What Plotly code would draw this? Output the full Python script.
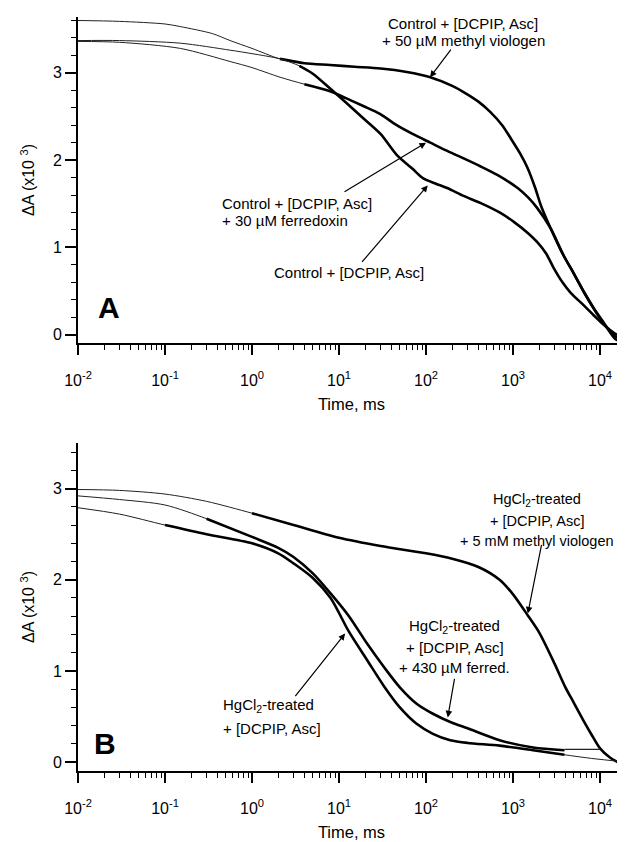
import plotly.graph_objects as go

# ---------------- data ----------------
# Panel A
t_mv_a = [0.01, 0.03, 0.1, 0.15, 0.35, 0.56, 1, 2.1, 4, 7.9, 15, 30, 60, 112, 200, 270, 400, 550,
          750, 940, 1200, 1470, 1800, 2090, 2700, 3800, 5000, 6600, 8000, 9500, 12000, 14500, 20000]
mv_a = [3.60, 3.59, 3.56, 3.53, 3.45, 3.37, 3.28, 3.16, 3.11, 3.09, 3.07, 3.05, 3.01, 2.95, 2.85, 2.78,
        2.67, 2.55, 2.40, 2.25, 2.08, 1.91, 1.68, 1.48, 1.22, 0.91, 0.70, 0.48, 0.34, 0.22, 0.08, -0.01, -0.08]

t_ctrl_a = [0.01, 0.03, 0.15, 0.56, 1, 2.1, 3.5, 5, 7.9, 12, 19, 30, 46, 70, 93, 130, 175, 270, 420,
            700, 1030, 1500, 1900, 2400, 2950, 3700, 4600, 6600, 8500, 10300, 15000, 20000]
ctrl_a = [3.37, 3.37, 3.34, 3.26, 3.22, 3.16, 3.08, 2.99, 2.82, 2.66, 2.48, 2.30, 2.06, 1.90, 1.79, 1.73,
          1.68, 1.59, 1.51, 1.40, 1.29, 1.16, 1.06, 0.93, 0.76, 0.60, 0.48, 0.33, 0.22, 0.14, 0.01, -0.04]

t_fd_a = [0.01, 0.03, 0.15, 0.56, 1, 2.1, 4, 7.9, 12, 19, 29.5, 46, 70, 112, 180, 270, 420, 660, 1130,
          1500, 1900, 2700, 3800, 5000, 6600, 8500, 11000, 15000, 20000]
fd_a = [3.36, 3.35, 3.28, 3.13, 3.06, 2.95, 2.87, 2.79, 2.71, 2.62, 2.53, 2.40, 2.30, 2.20, 2.10, 2.02,
        1.93, 1.83, 1.68, 1.57, 1.45, 1.22, 0.91, 0.70, 0.48, 0.30, 0.14, -0.05, -0.10]

# Panel B
t_mv_b = [0.01, 0.03, 0.1, 0.3, 1, 3, 10, 30, 100, 200, 400, 700, 1000, 1500, 2000, 3000, 4000, 5000,
          6500, 8000, 10000, 13000, 20000]
mv_b = [2.99, 2.98, 2.94, 2.86, 2.73, 2.60, 2.46, 2.37, 2.29, 2.23, 2.14, 2.00, 1.84, 1.60, 1.42, 1.08,
        0.82, 0.65, 0.45, 0.30, 0.15, 0.05, -0.05]

t_fer_b = [0.01, 0.03, 0.1, 0.3, 1, 2, 3, 5, 8, 13, 21, 33, 50, 78, 120, 190, 300, 700, 1700, 3900]
fer_b = [2.92, 2.88, 2.82, 2.67, 2.47, 2.35, 2.25, 2.07, 1.85, 1.60, 1.30, 1.04, 0.82, 0.64, 0.53, 0.44,
         0.37, 0.24, 0.16, 0.13]
t_fer_base_b = [3900, 10000]
fer_base_b = [0.14, 0.14]

t_hg_b = [0.01, 0.03, 0.1, 0.3, 1, 2, 3, 5, 8, 13, 21, 33, 50, 78, 120, 190, 300, 700, 1700, 3900,
          8000, 20000]
hg_b = [2.79, 2.72, 2.60, 2.50, 2.40, 2.29, 2.18, 2.02, 1.80, 1.43, 1.12, 0.83, 0.60, 0.42, 0.31, 0.24,
        0.21, 0.18, 0.13, 0.08, 0.04, 0.00]

# time windows covered by the measured (dense) data
data_window = {
    "mv_a": (1.5, 20000), "ctrl_a": (2.5, 20000), "fd_a": (2.5, 20000),
    "mv_b": (0.8, 20000), "fer_b": (0.3, 3900), "hg_b": (0.1, 3900),
}

x_major = [0.01, 0.1, 1, 10, 100, 1000, 10000]
x_major_text = ["10<sup>-2</sup>", "10<sup>-1</sup>", "10<sup>0</sup>", "10<sup>1</sup>",
                "10<sup>2</sup>", "10<sup>3</sup>", "10<sup>4</sup>"]
x_minor = [m * 10.0 ** e for e in range(-2, 5) for m in range(2, 10)]
y_major = [0, 1, 2, 3]

# ---------------- figure ----------------
FONT = "Liberation Sans, Arial, Helvetica, sans-serif"
fig = go.Figure()


def add_curve(t, v, key, xa, ya):
    fig.add_trace(go.Scatter(x=t, y=v, mode="lines", xaxis=xa, yaxis=ya,
                             line=dict(color="#222", width=1, shape="spline", smoothing=0.8),
                             showlegend=False, hoverinfo="skip"))
    lo, hi = data_window[key]
    td = [a for a in t if lo <= a <= hi]
    vd = [b for a, b in zip(t, v) if lo <= a <= hi]
    fig.add_trace(go.Scatter(x=td, y=vd, mode="lines", xaxis=xa, yaxis=ya,
                             line=dict(color="black", width=2.6, shape="spline", smoothing=0.8),
                             showlegend=False, hoverinfo="skip"))


add_curve(t_mv_a, mv_a, "mv_a", "x", "y")
add_curve(t_ctrl_a, ctrl_a, "ctrl_a", "x", "y")
add_curve(t_fd_a, fd_a, "fd_a", "x", "y")
add_curve(t_mv_b, mv_b, "mv_b", "x2", "y2")
add_curve(t_fer_b, fer_b, "fer_b", "x2", "y2")
add_curve(t_hg_b, hg_b, "hg_b", "x2", "y2")
fig.add_trace(go.Scatter(x=t_fer_base_b, y=fer_base_b, mode="lines", xaxis="x2", yaxis="y2",
                         line=dict(color="#222", width=1.2), showlegend=False, hoverinfo="skip"))

xcommon = dict(type="log", range=[-2, 4.287], tickmode="array", tickvals=x_major,
               ticktext=x_major_text, ticklabelstandoff=12,
               showline=True, linecolor="black", linewidth=1.6, ticks="outside", ticklen=10,
               tickwidth=1.6, tickcolor="black", showgrid=False, zeroline=False,
               tickfont=dict(family=FONT, size=16, color="black"),
               minor=dict(tickvals=x_minor, ticks="outside", ticklen=5, tickwidth=1.3,
                          tickcolor="black", showgrid=False),
               title=dict(text="Time, ms", font=dict(family=FONT, size=16.5, color="black"),
                          standoff=10))
ycommon = dict(showline=True, linecolor="black", linewidth=1.6, ticks="outside", ticklen=11,
               tickwidth=1.6, tickcolor="black", showgrid=False, zeroline=False,
               tickmode="array", tickvals=y_major,
               tickfont=dict(family=FONT, size=16, color="black"),
               minor=dict(dtick=0.2, ticks="outside", ticklen=5, tickwidth=1.3, tickcolor="black",
                          showgrid=False),
               title=dict(text="ΔA (x10 <sup>3</sup>)", font=dict(family=FONT, size=16, color="black"),
                          standoff=14))

# the page body adds an 8 px offset, so the figure is sized/margined to compensate
fig.update_layout(
    width=617, height=834, paper_bgcolor="white", plot_bgcolor="white",
    margin=dict(l=70, r=0, t=9, b=71),
    xaxis=dict(xcommon, domain=[0, 1], anchor="y"),
    yaxis=dict(ycommon, domain=[0.5676, 1], range=[-0.096, 3.64], anchor="x"),
    xaxis2=dict(xcommon, domain=[0, 1], anchor="y2"),
    yaxis2=dict(ycommon, domain=[0, 0.435], range=[-0.098, 3.50], anchor="x2"),
)

ann = []
TF = dict(family=FONT, size=15, color="black")


def label(text, x, y, xref, yref, xanchor="center", size=15):
    ann.append(dict(text=text, x=x, y=y, xref=xref, yref=yref, showarrow=False,
                    font=dict(TF, size=size), xanchor=xanchor, yanchor="middle"))


def arrow(x, y, ax, ay, xref, yref):
    ann.append(dict(text="", x=x, y=y, xref=xref, yref=yref, ax=ax, ay=ay, showarrow=True,
                    arrowhead=2, arrowsize=1.1, arrowwidth=1.2, arrowcolor="black"))


# Panel A labels (x in log10 units for log axes)
label("Control + [DCPIP, Asc]", 2.425, 3.57, "x", "y")
label("+ 50 µM methyl viologen", 2.425, 3.376, "x", "y")
arrow(2.046, 2.95, 22, -29, "x", "y")
label("Control + [DCPIP, Asc]", -0.368, 1.507, "x", "y", "left")
label("+ 30 µM ferredoxin", -0.368, 1.313, "x", "y", "left")
arrow(2.0, 2.20, -83, 50, "x", "y")
label("Control + [DCPIP, Asc]", 1.115, 0.716, "x", "y")
arrow(2.02, 1.71, -67, 78, "x", "y")
ann.append(dict(text="<b>A</b>", x=-1.64, y=0.31, xref="x", yref="y", showarrow=False,
                font=dict(family=FONT, size=30, color="black"), xanchor="center", yanchor="middle"))

# Panel B labels
label("HgCl<sub>2</sub>-treated", 3.27, 2.87, "x2", "y2", size=14.5)
label("+ [DCPIP, Asc]", 3.27, 2.645, "x2", "y2", size=14.5)
label("+ 5 mM methyl viologen", 3.27, 2.425, "x2", "y2", size=14.5)
arrow(3.17, 1.63, 14, -70, "x2", "y2")
label("HgCl<sub>2</sub>-treated", 2.333, 1.49, "x2", "y2")
label("+ [DCPIP, Asc]", 2.333, 1.26, "x2", "y2")
label("+ 430 µM ferred.", 2.333, 1.04, "x2", "y2")
arrow(2.25, 0.49, 7, -40, "x2", "y2")
label("HgCl<sub>2</sub>-treated", -0.356, 0.62, "x2", "y2", "left")
label("+ [DCPIP, Asc]", -0.356, 0.37, "x2", "y2", "left")
arrow(1.07, 1.41, -51, 64, "x2", "y2")
ann.append(dict(text="<b>B</b>", x=-1.69, y=0.205, xref="x2", yref="y2", showarrow=False,
                font=dict(family=FONT, size=30, color="black"), xanchor="center", yanchor="middle"))

fig.update_layout(annotations=ann)
fig.write_html("out.html")
